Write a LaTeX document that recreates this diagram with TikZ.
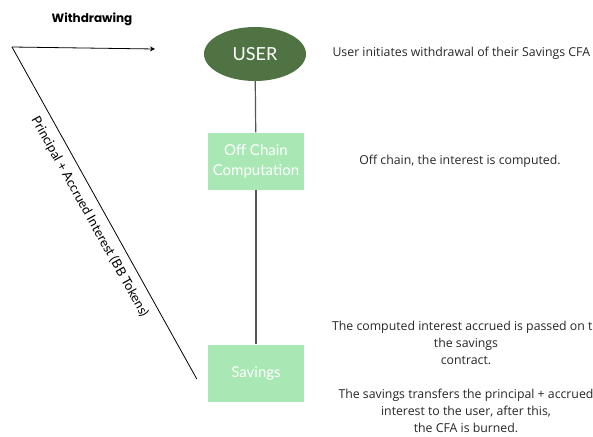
\documentclass[tikz,border=0pt]{standalone}
\usepackage{fontspec}
\setmainfont{Lato}
\newfontfamily\headfont{Poppins}
\newfontfamily\notefont{Open Sans}
\usetikzlibrary{arrows.meta,shapes.geometric}

\definecolor{userfill}{HTML}{4F7342}
\definecolor{stepfill}{HTML}{A9E8B5}
\definecolor{linkgray}{HTML}{555555}

\tikzset{
  stepbox/.style={rectangle,fill=stepfill,text=white,minimum width=96pt,minimum height=57pt,
    align=center,font=\fontsize{15}{20}\selectfont},
  note/.style={align=center,font=\notefont\fontsize{12.3}{17}\selectfont,text=black!85},
  link/.style={draw=linkgray,line width=1.2pt}
}

\begin{document}
\begin{tikzpicture}[x=1pt,y=-1pt]
 \useasboundingbox (0,0) rectangle (593,436);
 \clip (0,0) rectangle (593,436);

 \node[font=\headfont\bfseries\fontsize{12}{14}\selectfont] (title) at (92,19) {Withdrawing};

 % the chain of steps
 \node[ellipse,fill=userfill,text=white,minimum width=102pt,minimum height=54pt,
   font=\fontsize{18}{20}\selectfont] (user) at (255,54) {USER};
 \node[stepbox] (offchain) at (256,161) {Off Chain\\Computation};
 \node[stepbox] (savings) at (256,373) {Savings};
 \draw[link] (user) -- (offchain);
 \draw[link] (offchain) -- (savings);

 % payout going back to the user
 \coordinate (corner) at (12,47);
 \coordinate (tip) at (155,49);
 \coordinate (payout) at ([xshift=-11pt,yshift=-6pt]savings.west);
 \draw[line width=0.8pt,-{Stealth[length=5pt,width=5pt]}] (corner) -- (tip);
 \draw[line width=0.8pt] (corner) -- (payout)
   node[pos=0.49,sloped,below=8pt,inner sep=0pt,font=\fontsize{13}{14}\selectfont] (tokens) {Principal + Accrued Interest (BB Tokens)};

 % notes
 \node[note,anchor=west] (n1) at (329,53) {User initiates withdrawal of their Savings CFA};
 \node[note] (n2) at (460,161) {Off chain, the interest is computed.};
 \node[note,anchor=north] (n3) at (466,318) {The computed interest accrued is passed on to\\the savings\\contract.\\[17pt]The savings transfers the principal + accrued\\interest to the user, after this,\\the CFA is burned.};
\end{tikzpicture}
\end{document}
